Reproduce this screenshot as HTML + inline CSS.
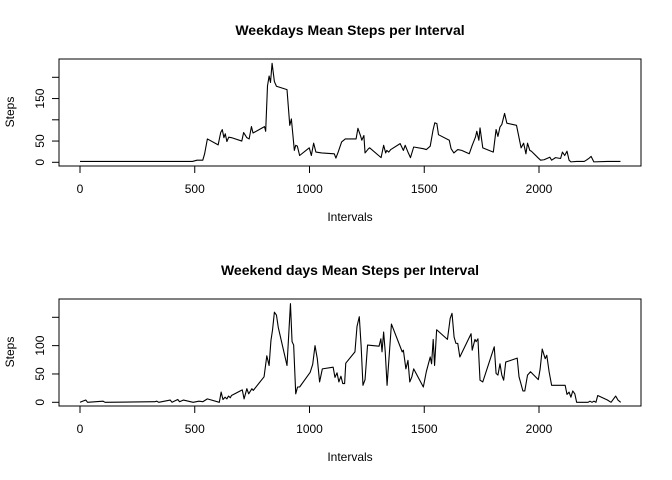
<!DOCTYPE html>
<html><head><meta charset="utf-8"><style>
html,body{margin:0;padding:0;background:#fff;}
svg{display:block;font-family:"Liberation Sans",Arial,sans-serif;}
</style></head><body>
<svg id="chart" width="672" height="480" xmlns="http://www.w3.org/2000/svg"></svg>
<script>
const xTicks = [0, 500, 1000, 1500, 2000];
const wdYTicks = [0, 50, 100, 150, 200];
const wdYLabels = ["0", "50", "", "150", ""];
const weIYTicks = [0, 50, 100, 150];
const weYLabels = ["0", "50", "100", ""];
const wdIntervals = [0,490,510,535,543,555,602,613,620,627,633,640,648,660,705,713,727,737,747,754,804,809,817,824,830,837,847,856,902,914,921,934,940,947,957,999,1008,1018,1028,1053,1108,1115,1125,1140,1156,1203,1211,1222,1228,1237,1242,1257,1262,1312,1323,1332,1337,1345,1354,1395,1409,1417,1429,1440,1454,1496,1509,1526,1538,1546,1555,1562,1609,1617,1629,1646,1663,1696,1709,1723,1729,1738,1743,1755,1801,1813,1821,1830,1838,1850,1860,1902,1922,1933,1943,1950,1960,1967,1997,2007,2022,2047,2055,2072,2094,2102,2112,2122,2131,2139,2164,2197,2206,2217,2227,2239,2298,2331,2355];
const wdSteps = [2,2,5,5,20,55,41,70,77,58,67,49,59,58,50,70,58,55,84,69,84,73,180,203,188,233,190,179,171,87,102,28,40,38,16,34,16,45,24,22,20,10,24,48,55,55,80,63,52,63,22,32,34,11,40,22,28,24,30,44,28,40,24,11,36,32,30,38,75,93,91,65,52,32,22,30,28,20,40,59,73,52,81,34,24,77,61,83,89,115,92,87,34,45,20,45,28,26,10,5,6,12,5,11,9,24,16,26,5,1,2,2,5,9,14,1,2,2,2];
const weIntervals = [0,25,33,100,109,326,334,343,393,401,426,434,451,493,518,535,555,607,615,623,632,640,647,655,660,707,715,727,735,749,755,802,814,824,832,839,847,856,864,902,917,924,931,940,948,957,1003,1014,1024,1034,1044,1056,1103,1111,1120,1128,1137,1145,1153,1158,1198,1207,1217,1225,1233,1242,1253,1303,1311,1316,1323,1330,1338,1357,1404,1409,1420,1429,1437,1446,1454,1496,1509,1526,1532,1539,1545,1554,1601,1613,1621,1630,1638,1646,1655,1704,1709,1721,1726,1734,1743,1755,1805,1813,1821,1830,1838,1846,1855,1905,1913,1930,1938,1950,1963,1997,2005,2014,2027,2034,2044,2055,2063,2114,2122,2131,2139,2147,2156,2164,2214,2222,2231,2239,2248,2256,2298,2314,2334,2344,2356];
const weSteps = [0,4,0,2,0,1,2,0,4,0,5,1,4,0,2,1,6,0,18,5,9,6,11,8,12,22,6,24,15,24,21,45,82,65,109,128,159,154,132,65,174,107,101,15,27,27,53,67,100,77,36,59,62,44,52,36,46,33,33,69,89,134,151,99,30,40,101,99,112,89,124,89,30,138,89,92,59,74,36,45,59,27,54,80,68,111,65,128,111,148,157,115,104,104,80,121,92,111,107,112,39,36,98,51,48,68,48,39,71,78,45,20,20,48,54,40,59,94,77,83,54,30,30,30,14,18,9,20,15,0,0,2,0,2,0,12,4,0,11,4,0];

const NS = "http://www.w3.org/2000/svg";
const svg = document.getElementById('chart');
function mk(tag, attrs, parent) {
  const e = document.createElementNS(NS, tag);
  for (const k in attrs) e.setAttribute(k, attrs[k]);
  (parent || svg).appendChild(e);
  return e;
}
const X0 = 80, XK = 459 / 2000;
function xs(v) { return X0 + v * XK; }

function panel(off, title, yPx0, yScale, yTicks, yLabels, xsArr, ysArr, key) {
  const g = mk('g', {});
  
  
  const ys = v => yPx0 - v * yScale;
  const t = mk('text', {x: 350, y: off + 35, 'text-anchor': 'middle', 'font-size': 14, 'font-weight': 'bold'}, g);
  t.textContent = title;
  
  
  const box = mk('rect', {x: 59, y: off + 59, width: 582, height: 107, fill: 'none', stroke: '#000', 'stroke-width': 1}, g);
  
  
  // x axis
  const xa = mk('g', {}, g);
  
  
  mk('line', {x1: xs(xTicks[0]), x2: xs(xTicks[xTicks.length - 1]), y1: off + 166, y2: off + 166, stroke: '#000'}, xa);
  xTicks.forEach(v => {
    mk('line', {x1: xs(v), x2: xs(v), y1: off + 166, y2: off + 173, stroke: '#000'}, xa);
    const l = mk('text', {x: xs(v), y: off + 193, 'text-anchor': 'middle', 'font-size': 12}, xa);
    l.textContent = v;
    
    
  });
  const xl = mk('text', {x: 350, y: off + 221, 'text-anchor': 'middle', 'font-size': 12}, g);
  xl.textContent = 'Intervals';
  
  
  // y axis
  const ya = mk('g', {}, g);
  
  
  mk('line', {x1: 59, x2: 59, y1: ys(yTicks[0]), y2: ys(yTicks[yTicks.length - 1]), stroke: '#000'}, ya);
  yTicks.forEach((v, i) => {
    mk('line', {x1: 52, x2: 59, y1: ys(v), y2: ys(v), stroke: '#000'}, ya);
    if (yLabels[i]) {
      const l = mk('text', {x: 0, y: 0, 'text-anchor': 'middle', 'font-size': 12, transform: `translate(44,${ys(v)}) rotate(-90)`}, ya);
      l.textContent = yLabels[i];
      
      
    }
  });
  const yl = mk('text', {x: 0, y: 0, 'text-anchor': 'middle', 'font-size': 12, transform: `translate(14,${off + 112}) rotate(-90)`}, g);
  yl.textContent = 'Steps';
  
  
  const pts = xsArr.map((x, i) => xs(x).toFixed(2) + ',' + ys(ysArr[i]).toFixed(2)).join(' ');
  const pl = mk('polyline', {points: pts, fill: 'none', stroke: '#000', 'stroke-width': 1.1, 'stroke-linejoin': 'round'}, g);
  
  
}
panel(0, 'Weekdays Mean Steps per Interval', 162.3, 85 / 200, wdYTicks, wdYLabels, wdIntervals, wdSteps, 'weekdays');
panel(240, 'Weekend days Mean Steps per Interval', 402.3, 85 / 150, weIYTicks, weYLabels, weIntervals, weSteps, 'weekend');
</script>
</body></html>
